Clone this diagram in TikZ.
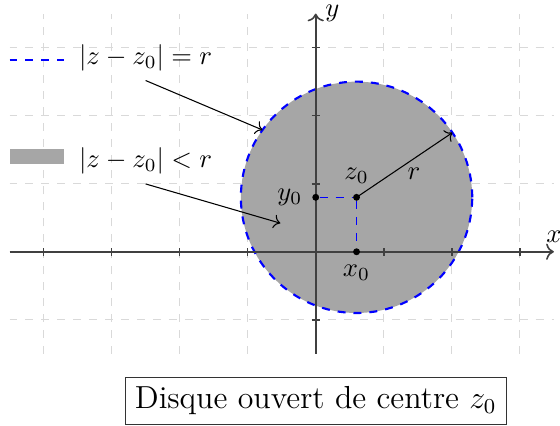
\documentclass[tikz,border=0pt]{standalone}
\usepackage{tikz}
\usetikzlibrary{positioning, arrows.meta, calc}

\begin{document}
\begin{tikzpicture}[
    x=0.9cm, y=0.9cm,
    grille/.style     = {draw=gray!30, dashed},
    axe/.style        = {->, draw=black!75, semithick},
    graduation/.style = {draw=black!75, semithick},
    bord/.style       = {draw=blue, dashed, thick},
    disque/.style     = {fill=gray!70},
    projection/.style = {draw=blue, dashed},
    fleche/.style     = {->, draw=black},
    point/.style      = {circle, fill=black, inner sep=0pt, minimum size=2.6pt},
    titre/.style      = {draw=black!80, font=\large, inner sep=3.6pt},
  ]
  \useasboundingbox (-4.64,-2.56) rectangle (3.59,3.70);

  % grille, puis le disque dessous les axes
  \foreach \i in {-4,...,3}
    \draw[grille] (\i,-1.5) -- (\i,3.5);
  \foreach \j in {-1,...,3}
    \draw[grille] (-4.5,\j) -- (3.5,\j);
  \coordinate (z0) at (0.6,0.8);
  \fill[disque] (z0) circle (1.7);
  \draw[bord] (z0) circle (1.7);

  % axes et graduations
  \coordinate (xmin) at (-4.5,0);
  \coordinate (xmax) at (3.5,0);
  \coordinate (ymin) at (0,-1.5);
  \coordinate (ymax) at (0,3.5);
  \draw[axe] (xmin) -- (xmax) node[above] (xlab) {$x$};
  \draw[axe] (ymin) -- (ymax) node[right, inner sep=1pt, xshift=2.3pt] (ylab) {$y$};
  \foreach \i in {-4,...,-1,1,2,3}
    \draw[graduation] (\i,0) ++(0,-1.5pt) -- ++(0,3pt);
  \foreach \j in {-1,1,2,3}
    \draw[graduation] (0,\j) ++(-1.5pt,0) -- ++(3pt,0);

  % centre, projections et rayon
  \node[point] (pz0) at (z0) {};
  \node[point] (px0) at (0.6,0) {};
  \node[point] (py0) at (0,0.8) {};
  \node[above=0pt of pz0, inner sep=3.33pt] (lz0) {$z_0$};
  \node[below=0pt of px0, inner sep=3.33pt] (lx0) {$x_0$};
  \node[left=0pt of py0, inner sep=3.33pt] (ly0) {$y_0$};
  \draw[projection] (py0) -- (pz0);
  \draw[projection] (pz0) -- (px0);
  \coordinate (rbout) at ($(z0)+(34:1.7)$);
  \draw[fleche] (pz0.center) -- (rbout) node[pos=0.6, below] (lr) {$r$};

  % legende
  \coordinate (trait1) at (-4.5,2.82);
  \coordinate (trait2) at (-3.7,2.82);
  \draw[bord] (trait1) -- (trait2);
  \node (egal) at (-2.5,2.85) {$|z-z_0|=r$};
  \node[disque, minimum width=0.72cm, minimum height=0.2cm, inner sep=0pt] (carre) at (-4.1,1.4) {};
  \node (inf) at (-2.5,1.33) {$|z-z_0|<r$};
  \coordinate (cible1) at ($(z0)+(144.4:1.7)$);
  \coordinate (cible2) at (-0.52,0.42);
  \draw[fleche] (egal.south) -- (cible1);
  \draw[fleche] (inf.south) -- (cible2);

  \node[titre] (titre) at (0,-2.19) {Disque ouvert de centre $z_0$};
\end{tikzpicture}
\end{document}
